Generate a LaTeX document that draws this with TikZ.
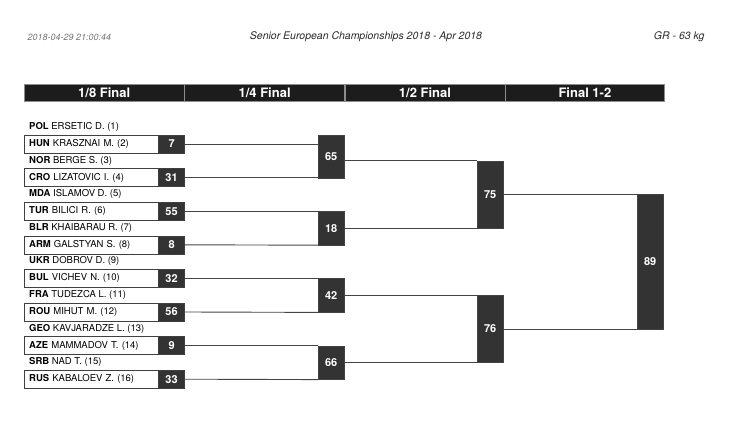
\documentclass[tikz,border=0pt]{standalone}
\usepackage{fontspec}
\setmainfont{TeX Gyre Heros}
\usetikzlibrary{positioning}
\definecolor{hdrBlack}{RGB}{28,28,28}
\definecolor{boxGrey}{RGB}{51,51,51}
\definecolor{lineGrey}{RGB}{68,68,68}
\definecolor{edgeGrey}{RGB}{140,140,140}
\definecolor{dateGrey}{RGB}{115,115,115}
\definecolor{titleGrey}{RGB}{40,40,40}
\tikzset{
  hdrbox/.style={
    rectangle, fill=hdrBlack, draw=edgeGrey, text=white, inner sep=0pt,
    minimum width=160, minimum height=17, font=\fontsize{13}{14}\selectfont\bfseries},
  namebox/.style={
    rectangle, inner xsep=5pt, inner ysep=0pt, anchor=west,
    font=\fontsize{9.5}{11}\selectfont},
  entrybox/.style={
    namebox, draw=black!75, fill=white, text width=124pt, align=left,
    minimum height=18},
  scorebox/.style={
    rectangle, fill=boxGrey, draw=black!75, text=white, inner sep=0pt,
    minimum width=26, minimum height=18, font=\fontsize{11}{12}\selectfont\bfseries},
  matchbox/.style={
    scorebox, anchor=north west, draw=lineGrey},
  bracket/.style={draw=lineGrey, line width=0.9pt}
}

\begin{document}
\begin{tikzpicture}[x=1pt, y=-1pt]
        \useasboundingbox (0,0) rectangle (730,427);
        \node[anchor=west, text=dateGrey, font=\fontsize{9}{10}\selectfont\itshape] (stamp) at (24,37) {2018-04-29 21:00:44};
        \node[text=titleGrey, font=\fontsize{10.5}{12}\selectfont\itshape] (title) at (366,37) {Senior European Championships 2018 - Apr 2018};
        \node[anchor=east, text=titleGrey, font=\fontsize{10.5}{12}\selectfont\itshape] (cat) at (708,37) {GR - 63 kg};

        \node[hdrbox, anchor=north west] (h8) at (24,84) {1/8 Final};
        \node[hdrbox, right=0pt of h8] (h4) {1/4 Final};
        \node[hdrbox, right=0pt of h4] (h2) {1/2 Final};
        \node[hdrbox, right=0pt of h2, minimum width=159] (h1) {Final 1-2};

        % first round
        \node[namebox] (w1) at (24,127) {\textbf{POL} ERSETIC D. (1)};
        \node[entrybox] (w2) at (24,144) {\textbf{HUN} KRASZNAI M. (2)};
        \node[scorebox, right=0pt of w2] (b7) {7};
        \node[namebox] (w3) at (24,160.6) {\textbf{NOR} BERGE S. (3)};
        \node[entrybox] (w4) at (24,177.6) {\textbf{CRO} LIZATOVIC I. (4)};
        \node[scorebox, right=0pt of w4] (b31) {31};
        \node[namebox] (w5) at (24,194.2) {\textbf{MDA} ISLAMOV D. (5)};
        \node[entrybox] (w6) at (24,211.2) {\textbf{TUR} BILICI R. (6)};
        \node[scorebox, right=0pt of w6] (b55) {55};
        \node[namebox] (w7) at (24,227.8) {\textbf{BLR} KHAIBARAU R. (7)};
        \node[entrybox] (w8) at (24,244.8) {\textbf{ARM} GALSTYAN S. (8)};
        \node[scorebox, right=0pt of w8] (b8) {8};
        \node[namebox] (w9) at (24,261.4) {\textbf{UKR} DOBROV D. (9)};
        \node[entrybox] (w10) at (24,278.4) {\textbf{BUL} VICHEV N. (10)};
        \node[scorebox, right=0pt of w10] (b32) {32};
        \node[namebox] (w11) at (24,295) {\textbf{FRA} TUDEZCA L. (11)};
        \node[entrybox] (w12) at (24,312) {\textbf{ROU} MIHUT M. (12)};
        \node[scorebox, right=0pt of w12] (b56) {56};
        \node[namebox] (w13) at (24,328.6) {\textbf{GEO} KAVJARADZE L. (13)};
        \node[entrybox] (w14) at (24,345.6) {\textbf{AZE} MAMMADOV T. (14)};
        \node[scorebox, right=0pt of w14] (b9) {9};
        \node[namebox] (w15) at (24,362.2) {\textbf{SRB} NAD T. (15)};
        \node[entrybox] (w16) at (24,379.2) {\textbf{RUS} KABALOEV Z. (16)};
        \node[scorebox, right=0pt of w16] (b33) {33};

        % later rounds
        \node[matchbox, minimum height=43] (b65) at (318,135) {65};
        \node[matchbox, minimum height=33.6] (b18) at (318,211.2) {18};
        \node[matchbox, minimum height=33.6] (b42) at (318,278.4) {42};
        \node[matchbox, minimum height=33.6] (b66) at (318,345.6) {66};
        \node[matchbox, minimum height=67.2] (b75) at (477,160.8) {75};
        \node[matchbox, minimum height=67.2] (b76) at (477,295.2) {76};
        \node[matchbox, minimum height=134.4] (b89) at (637,194.4) {89};

        \draw[bracket] (b7.east) -- (b7.east -| b65.west);
        \draw[bracket] (b31.east) -- (b31.east -| b65.west);
        \draw[bracket] (b55.east) -- (b18.north west);
        \draw[bracket] (b8.east) -- (b18.south west);
        \draw[bracket] (b32.east) -- (b42.north west);
        \draw[bracket] (b56.east) -- (b42.south west);
        \draw[bracket] (b9.east) -- (b66.north west);
        \draw[bracket] (b33.east) -- (b66.south west);

        \draw[bracket] (b65.east |- b75.north west) -- (b75.north west);
        \draw[bracket] (b18.east |- b75.south west) -- (b75.south west);
        \draw[bracket] (b42.east |- b76.north west) -- (b76.north west);
        \draw[bracket] (b66.east |- b76.south west) -- (b76.south west);

        \draw[bracket] (b75.east |- b89.north west) -- (b89.north west);
        \draw[bracket] (b76.east |- b89.south west) -- (b89.south west);
      \end{tikzpicture}
\end{document}
